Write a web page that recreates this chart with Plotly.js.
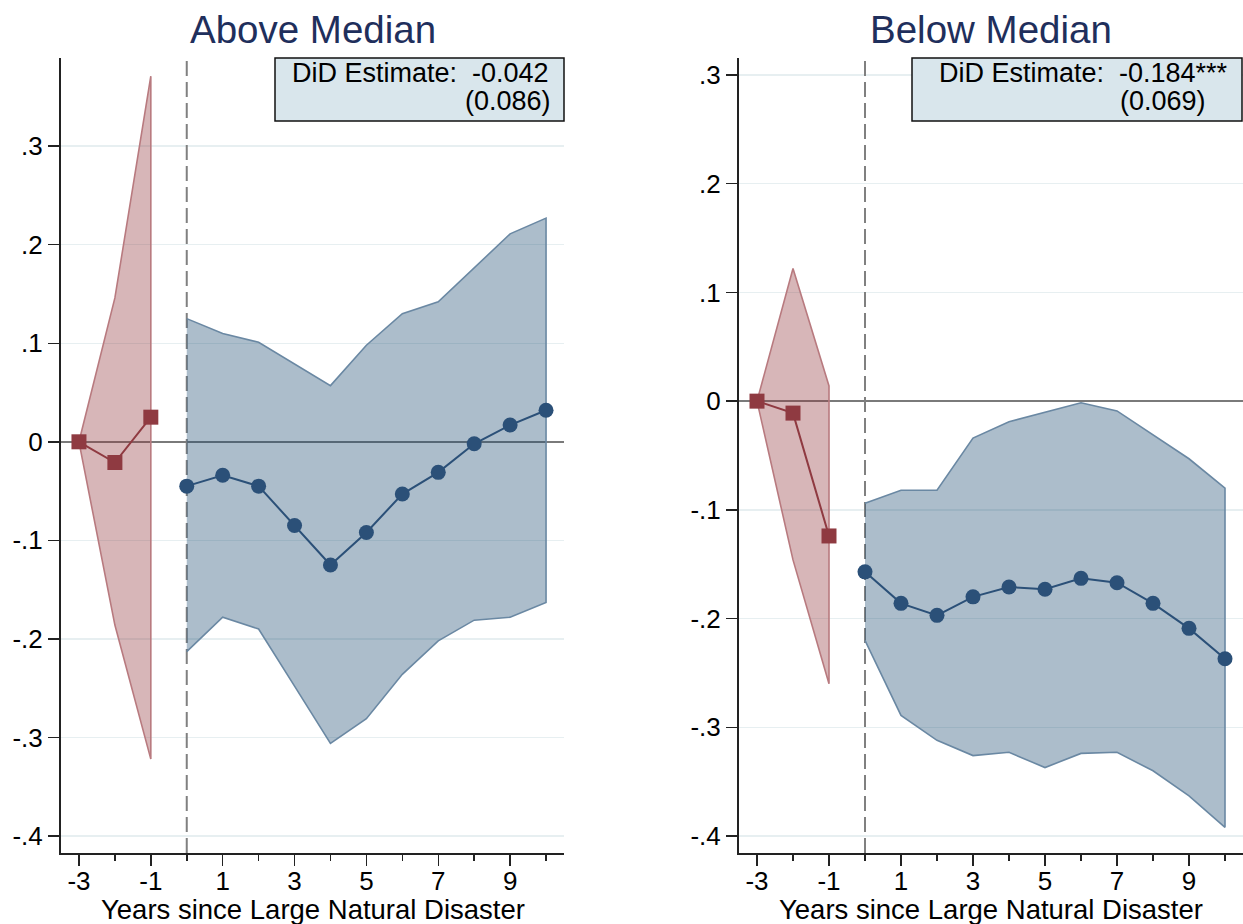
<!DOCTYPE html>
<html>
<head>
<meta charset="utf-8">
<script src="https://cdn.plot.ly/plotly-3.0.1.min.js"></script>
<style>html,body{margin:0;padding:0;background:#fff;}#chart{width:1243px;height:924px;}</style>
</head>
<body>
<div id="chart"></div>
<script>
// ---------- data ----------
const preYears  = [-3, -2, -1];
const postYears = [0, 1, 2, 3, 4, 5, 6, 7, 8, 9, 10];

const aboveCoefPre   = [0, -0.021, 0.025];
const aboveUpperPre  = [0, 0.146, 0.371];
const aboveLowerPre  = [0, -0.186, -0.322];
const aboveCoefPost  = [-0.045, -0.034, -0.045, -0.085, -0.125, -0.092, -0.053, -0.031, -0.002, 0.017, 0.032];
const aboveUpperPost = [0.125, 0.110, 0.101, 0.079, 0.057, 0.098, 0.130, 0.142, 0.177, 0.211, 0.227];
const aboveLowerPost = [-0.213, -0.178, -0.190, -0.248, -0.306, -0.281, -0.236, -0.202, -0.181, -0.178, -0.163];

const belowCoefPre   = [0, -0.011, -0.124];
const belowUpperPre  = [0, 0.122, 0.014];
const belowLowerPre  = [0, -0.146, -0.260];
const belowCoefPost  = [-0.157, -0.186, -0.197, -0.180, -0.171, -0.173, -0.163, -0.167, -0.186, -0.209, -0.237];
const belowUpperPost = [-0.094, -0.082, -0.082, -0.034, -0.019, -0.010, -0.0015, -0.009, -0.031, -0.053, -0.080];
const belowLowerPost = [-0.220, -0.289, -0.312, -0.326, -0.323, -0.337, -0.324, -0.323, -0.340, -0.363, -0.392];

const panelTitles = ["Above Median", "Below Median"];
const didLine1 = ["DiD Estimate: \u00A0-0.042", "DiD Estimate: \u00A0-0.184***"];
const didLine2 = ["(0.086)", "(0.069)"];
const xTickVals = [-3, -1, 1, 3, 5, 7, 9];
const xTickText = ["-3", "-1", "1", "3", "5", "7", "9"];
const xMinorVals = [-2, 0, 2, 4, 6, 8, 10];
const yTickVals = [-0.4, -0.3, -0.2, -0.1, 0, 0.1, 0.2, 0.3];
const yTickText = ["-.4", "-.3", "-.2", "-.1", "0", ".1", ".2", ".3"];
const xTitle = "Years since Large Natural Disaster";
const eventYear = 0;

// ---------- styling ----------
const W = 1243, H = 924;
const FONT = "Liberation Sans";
const redFill = "rgba(144,53,59,0.36)", redEdge = "#b87a7f", redMark = "#8f3a41";
const blueFill = "rgba(26,71,111,0.36)", blueEdge = "#6a88a3", blueMark = "#2b5078";

function band(xs, up, lo, fill, edge, xa, ya) {
  return {
    x: xs.concat(xs.slice().reverse()),
    y: up.concat(lo.slice().reverse()),
    xaxis: xa, yaxis: ya, type: "scatter", mode: "lines",
    fill: "toself", fillcolor: fill,
    line: {color: edge, width: 1.6}, hoverinfo: "skip", showlegend: false
  };
}
function pts(xs, ys, color, symbol, xa, ya) {
  return {
    x: xs, y: ys, xaxis: xa, yaxis: ya, type: "scatter", mode: "lines+markers",
    line: {color: color, width: 2},
    marker: {color: color, symbol: symbol, size: 15},
    showlegend: false
  };
}
function vline(xa, ya, range) {
  return {
    x: [eventYear, eventYear], y: range, xaxis: xa, yaxis: ya, type: "scatter", mode: "lines",
    line: {color: "#808080", width: 2, dash: "15px,6px"}, hoverinfo: "skip", showlegend: false
  };
}

const yRange1 = [-0.4173, 0.3895];
const yRange2 = [-0.4156, 0.3156];

const data = [
  vline("x", "y", yRange1),
  band(preYears, aboveUpperPre, aboveLowerPre, redFill, redEdge, "x", "y"),
  band(postYears, aboveUpperPost, aboveLowerPost, blueFill, blueEdge, "x", "y"),
  pts(preYears, aboveCoefPre, redMark, "square", "x", "y"),
  pts(postYears, aboveCoefPost, blueMark, "circle", "x", "y"),
  vline("x2", "y2", yRange2),
  band(preYears, belowUpperPre, belowLowerPre, redFill, redEdge, "x2", "y2"),
  band(postYears, belowUpperPost, belowLowerPost, blueFill, blueEdge, "x2", "y2"),
  pts(preYears, belowCoefPre, redMark, "square", "x2", "y2"),
  pts(postYears, belowCoefPost, blueMark, "circle", "x2", "y2")
];

const px = v => v / W;
const py = v => 1 - v / H;

function xAxis(domain, anchor) {
  return {
    domain: domain, anchor: anchor, range: [-3.5, 10.5],
    tickmode: "array", tickvals: xTickVals, ticktext: xTickText,
    ticks: "outside", ticklen: 11, tickwidth: 1.5, tickcolor: "#222",
    ticklabelstandoff: -7,
    minor: {tickmode: "array", tickvals: xMinorVals, ticks: "outside", ticklen: 6, tickwidth: 1.5, tickcolor: "#222", showgrid: false},
    showline: true, linecolor: "#222", linewidth: 2,
    showgrid: false, zeroline: false,
    tickfont: {family: FONT, size: 26, color: "#000"},
    fixedrange: true
  };
}
function yAxis(domain, anchor, range) {
  return {
    domain: domain, anchor: anchor, range: range,
    tickmode: "array", tickvals: yTickVals, ticktext: yTickText,
    ticks: "outside", ticklen: 11, tickwidth: 1.5, tickcolor: "#222",
    showline: true, linecolor: "#222", linewidth: 2,
    showgrid: true, gridcolor: "#e7eff1", gridwidth: 1.5,
    zeroline: true, zerolinecolor: "#7a7a7a", zerolinewidth: 2,
    tickfont: {family: FONT, size: 26, color: "#000"},
    fixedrange: true
  };
}

const yDom = [py(853), py(58)];
const layout = {
  width: W, height: H,
  margin: {l: 0, r: 0, t: 0, b: 0},
  paper_bgcolor: "#fff", plot_bgcolor: "#fff",
  showlegend: false,
  font: {family: FONT},
  xaxis: xAxis([px(61), px(564)], "y"),
  yaxis: yAxis(yDom, "x", yRange1),
  xaxis2: xAxis([px(739), 1], "y2"),
  yaxis2: yAxis(yDom, "x2", yRange2),
  shapes: [
    {type: "rect", xref: "paper", yref: "paper", x0: px(275), x1: px(564), y0: py(121), y1: py(58),
     fillcolor: "#d9e6ec", line: {color: "#111", width: 1.5}, layer: "above"},
    {type: "rect", xref: "paper", yref: "paper", x0: px(912), x1: px(1242), y0: py(121), y1: py(58),
     fillcolor: "#d9e6ec", line: {color: "#111", width: 1.5}, layer: "above"}
  ],
  annotations: [
    {text: panelTitles[0], xref: "paper", yref: "paper", x: px(312.5), y: py(29), xanchor: "center", yanchor: "middle",
     showarrow: false, font: {family: FONT, size: 38.5, color: "#1f2f5c"}},
    {text: panelTitles[1], xref: "paper", yref: "paper", x: px(991), y: py(29), xanchor: "center", yanchor: "middle",
     showarrow: false, font: {family: FONT, size: 38.5, color: "#1f2f5c"}},
    {text: xTitle, xref: "paper", yref: "paper", x: px(312.5), y: py(909), xanchor: "center", yanchor: "middle",
     showarrow: false, font: {family: FONT, size: 27.5, color: "#000"}},
    {text: xTitle, xref: "paper", yref: "paper", x: px(991), y: py(909), xanchor: "center", yanchor: "middle",
     showarrow: false, font: {family: FONT, size: 27.5, color: "#000"}},
    {text: didLine1[0], xref: "paper", yref: "paper", x: px(551), y: py(73), xanchor: "right", yanchor: "middle",
     showarrow: false, font: {family: FONT, size: 27, color: "#000"}},
    {text: didLine2[0], xref: "paper", yref: "paper", x: px(553), y: py(101), xanchor: "right", yanchor: "middle",
     showarrow: false, font: {family: FONT, size: 27, color: "#000"}},
    {text: didLine1[1], xref: "paper", yref: "paper", x: px(1230), y: py(73), xanchor: "right", yanchor: "middle",
     showarrow: false, font: {family: FONT, size: 27, color: "#000"}},
    {text: didLine2[1], xref: "paper", yref: "paper", x: px(1208), y: py(101), xanchor: "right", yanchor: "middle",
     showarrow: false, font: {family: FONT, size: 27, color: "#000"}}
  ]
};

Plotly.newPlot("chart", data, layout, {displayModeBar: false, staticPlot: true});
</script>
</body>
</html>
